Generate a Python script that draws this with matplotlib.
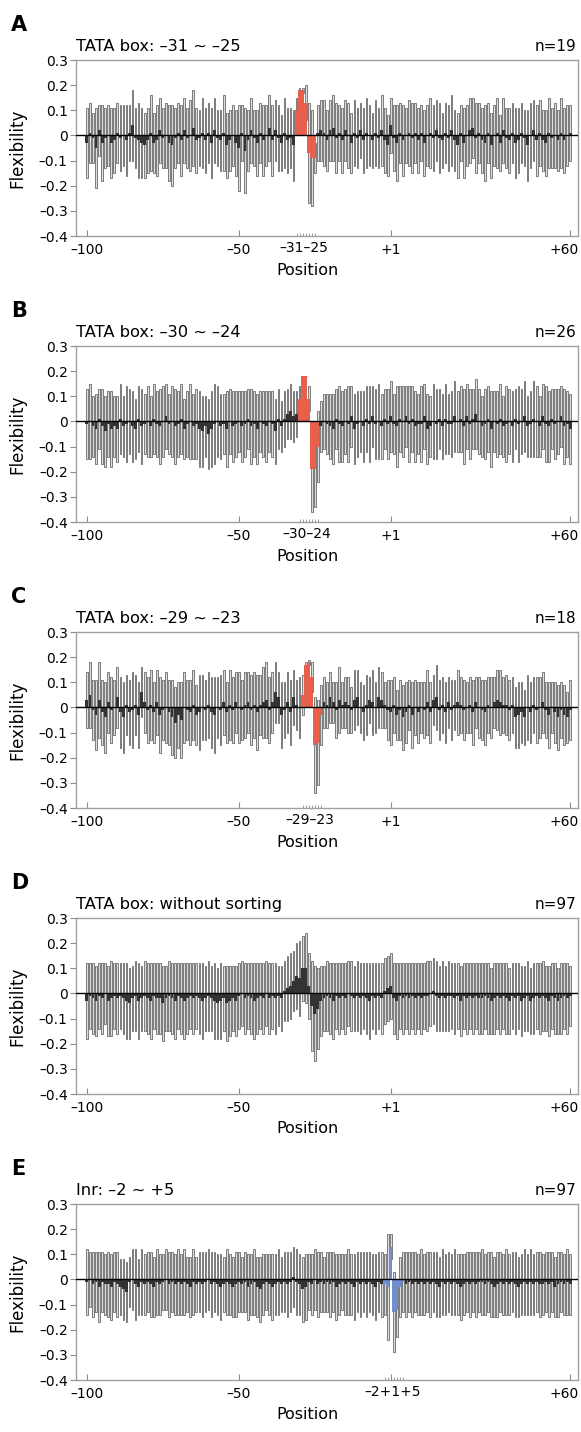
import matplotlib
matplotlib.use('Agg')
import matplotlib.pyplot as plt
import matplotlib.transforms as mtransforms
import numpy as np

plt.rcParams['font.family'] = ['DejaVu Sans']

# Positions: -100..-1, +1..+60 (no 0)
positions = list(range(-100, 0)) + list(range(1, 61))
major_tick_pos = [-100, -50, 1, 60]
major_tick_labels = ['\u2013100', '\u201350', '+1', '+60']

# ---------------- Panel A ----------------
A_mean = [
    -0.03, 0.01, -0.01, -0.05, 0.02, -0.03, -0.01, 0.00, -0.03, -0.02,
    0.01, -0.01, 0.00, -0.02, 0.01, 0.04, -0.01, -0.02, -0.03, -0.04,
    -0.02, 0.01, -0.03, -0.02, 0.02, -0.01, 0.00, -0.03, -0.04, -0.01,
    0.01, -0.02, 0.02, -0.01, 0.00, 0.03, -0.02, -0.01, 0.01, -0.02,
    0.01, -0.03, 0.02, -0.01, -0.02, 0.01, -0.04, -0.02, 0.00, -0.03,
    -0.05, 0.01, -0.06, -0.02, 0.02, -0.01, -0.03, 0.01, -0.02, 0.00,
    0.03, -0.02, 0.02, -0.01, -0.03, 0.01, -0.02, -0.01, -0.04, 0.10,
    0.18, 0.18, 0.13, -0.07, -0.09, -0.09, 0.01, 0.02, 0.01, -0.02,
    0.02, 0.03, -0.01, 0.01, -0.02, 0.02, 0.00, -0.03, 0.01, -0.01,
    0.02, -0.02, 0.01, 0.00, -0.02, 0.01, -0.01, 0.02, -0.02, -0.04,
    0.04, -0.01, -0.03, 0.01, -0.02, 0.00, 0.01, -0.01, 0.01, -0.02,
    0.01, -0.03, 0.00, 0.01, -0.01, 0.02, -0.01, -0.02, 0.01, -0.01,
    0.02, -0.02, -0.04, 0.01, -0.03, 0.00, 0.02, 0.03, -0.01, 0.01,
    -0.02, -0.03, 0.01, -0.04, 0.00, 0.01, -0.03, 0.02, -0.01, -0.02,
    0.01, -0.03, -0.02, 0.01, -0.01, -0.04, 0.00, 0.02, -0.02, 0.01,
    -0.02, -0.03, 0.01, -0.01, 0.00, -0.02, 0.01, -0.02, 0.00, 0.01,
]
A_sd = [
    0.14, 0.12, 0.10, 0.16, 0.10, 0.15, 0.12, 0.12, 0.14, 0.13,
    0.12, 0.13, 0.12, 0.14, 0.11, 0.14, 0.12, 0.15, 0.14, 0.13,
    0.13, 0.15, 0.12, 0.14, 0.13, 0.12, 0.13, 0.15, 0.16, 0.12,
    0.12, 0.14, 0.13, 0.12, 0.14, 0.15, 0.13, 0.11, 0.14, 0.13,
    0.12, 0.14, 0.13, 0.11, 0.12, 0.15, 0.13, 0.12, 0.12, 0.13,
    0.17, 0.11, 0.17, 0.12, 0.13, 0.11, 0.13, 0.12, 0.14, 0.12,
    0.13, 0.14, 0.12, 0.13, 0.11, 0.14, 0.13, 0.12, 0.14, 0.05,
    0.01, 0.01, 0.07, 0.20, 0.19, 0.06, 0.11, 0.12, 0.13, 0.12,
    0.12, 0.13, 0.14, 0.11, 0.13, 0.12, 0.13, 0.12, 0.13, 0.12,
    0.11, 0.13, 0.14, 0.12, 0.11, 0.13, 0.12, 0.14, 0.13, 0.12,
    0.11, 0.13, 0.15, 0.12, 0.14, 0.11, 0.13, 0.14, 0.12, 0.13,
    0.11, 0.13, 0.12, 0.14, 0.13, 0.12, 0.14, 0.11, 0.12, 0.13,
    0.14, 0.12, 0.13, 0.11, 0.14, 0.12, 0.13, 0.12, 0.14, 0.12,
    0.13, 0.15, 0.12, 0.13, 0.12, 0.14, 0.11, 0.13, 0.12, 0.13,
    0.12, 0.14, 0.13, 0.12, 0.11, 0.14, 0.13, 0.12, 0.14, 0.13,
    0.12, 0.13, 0.14, 0.12, 0.13, 0.12, 0.14, 0.13, 0.12, 0.11,
]

# ---------------- Panel B ----------------
B_mean = [
    -0.01, 0.00, -0.02, -0.03, 0.01, -0.02, -0.04, -0.01, -0.03, -0.02,
    -0.03, 0.01, -0.02, -0.01, 0.00, -0.02, -0.03, 0.01, -0.02, -0.01,
    0.00, -0.02, 0.01, -0.01, -0.02, 0.00, 0.02, -0.01, 0.00, -0.02,
    -0.01, 0.01, -0.03, -0.01, 0.00, -0.02, -0.01, -0.03, -0.04, -0.02,
    -0.05, -0.03, -0.01, 0.00, -0.02, -0.01, -0.03, 0.00, -0.02, -0.01,
    0.00, -0.02, -0.01, 0.01, -0.02, -0.01, -0.03, 0.00, -0.01, -0.02,
    0.00, -0.01, -0.04, 0.01, -0.02, 0.01, 0.03, 0.04, 0.02, 0.03,
    0.09, 0.18, 0.18, 0.09, -0.19, -0.19, -0.10, -0.02, 0.00, -0.01,
    -0.02, -0.03, 0.01, -0.01, -0.02, 0.00, -0.01, 0.02, -0.03, -0.01,
    0.00, -0.02, 0.01, -0.01, 0.02, -0.01, 0.00, -0.02, 0.01, -0.01,
    0.02, -0.01, -0.02, 0.01, 0.00, 0.02, -0.01, 0.01, -0.02, -0.01,
    -0.01, 0.02, -0.03, -0.02, 0.00, -0.01, 0.01, -0.02, 0.01, -0.01,
    -0.01, 0.02, 0.00, 0.01, -0.02, 0.02, -0.01, 0.01, 0.03, 0.00,
    -0.02, -0.01, 0.01, -0.03, 0.00, -0.01, 0.01, -0.02, -0.01, 0.00,
    -0.02, 0.01, -0.01, 0.00, 0.02, -0.02, -0.01, 0.01, 0.00, -0.02,
    0.02, -0.01, -0.02, 0.01, -0.01, 0.00, 0.02, -0.02, -0.01, -0.03,
]
B_sd = [
    0.14, 0.15, 0.12, 0.14, 0.12, 0.15, 0.14, 0.13, 0.15, 0.12,
    0.13, 0.14, 0.12, 0.15, 0.13, 0.14, 0.12, 0.13, 0.15, 0.12,
    0.14, 0.12, 0.14, 0.13, 0.15, 0.14, 0.13, 0.12, 0.14, 0.15,
    0.13, 0.14, 0.12, 0.13, 0.15, 0.13, 0.14, 0.15, 0.14, 0.12,
    0.14, 0.15, 0.16, 0.14, 0.13, 0.12, 0.15, 0.13, 0.14, 0.13,
    0.12, 0.14, 0.13, 0.12, 0.15, 0.13, 0.14, 0.12, 0.13, 0.14,
    0.12, 0.13, 0.13, 0.12, 0.10, 0.11, 0.10, 0.11, 0.10, 0.09,
    0.05, 0.00, 0.00, 0.05, 0.17, 0.15, 0.14, 0.10, 0.11, 0.12,
    0.13, 0.14, 0.12, 0.15, 0.14, 0.13, 0.15, 0.12, 0.14, 0.13,
    0.12, 0.14, 0.13, 0.15, 0.12, 0.14, 0.15, 0.13, 0.12, 0.14,
    0.14, 0.12, 0.16, 0.13, 0.14, 0.12, 0.15, 0.13, 0.14, 0.12,
    0.15, 0.13, 0.14, 0.12, 0.15, 0.14, 0.12, 0.13, 0.14, 0.12,
    0.13, 0.14, 0.12, 0.13, 0.15, 0.13, 0.14, 0.12, 0.14, 0.13,
    0.12, 0.14, 0.13, 0.15, 0.12, 0.13, 0.14, 0.12, 0.15, 0.13,
    0.14, 0.12, 0.15, 0.13, 0.14, 0.12, 0.13, 0.15, 0.14, 0.12,
    0.13, 0.15, 0.14, 0.12, 0.14, 0.13, 0.12, 0.15, 0.13, 0.14,
]

# ---------------- Panel C ----------------
C_mean = [
    0.03, 0.05, -0.01, -0.03, 0.03, -0.02, -0.04, 0.02, -0.01, 0.00,
    0.04, -0.02, -0.04, 0.01, -0.02, -0.01, 0.01, -0.03, 0.06, 0.02,
    -0.01, 0.01, -0.02, 0.02, -0.03, -0.01, 0.00, -0.02, -0.04, -0.06,
    -0.03, -0.05, 0.00, -0.01, -0.02, 0.01, -0.03, -0.02, 0.00, -0.01,
    0.01, -0.02, -0.03, 0.00, -0.01, 0.02, -0.02, 0.01, -0.01, 0.02,
    0.00, -0.01, 0.01, 0.02, -0.01, 0.01, -0.02, 0.01, 0.02, 0.03,
    -0.01, 0.02, 0.06, 0.04, -0.03, -0.01, 0.02, -0.02, 0.04, 0.01,
    0.00, 0.05, 0.17, 0.18, 0.12, -0.15, -0.14, -0.03, 0.02, 0.01,
    0.04, 0.02, -0.01, 0.03, 0.01, 0.02, 0.01, -0.01, 0.03, 0.04,
    0.00, -0.02, 0.01, 0.03, 0.02, 0.00, 0.04, 0.03, 0.01, -0.01,
    -0.02, 0.01, -0.03, -0.01, -0.04, -0.02, 0.01, -0.03, 0.00, -0.02,
    0.00, -0.01, 0.02, -0.02, 0.03, 0.04, -0.01, 0.01, -0.02, 0.02,
    -0.01, 0.01, 0.02, 0.01, -0.01, 0.00, 0.01, -0.02, 0.02, 0.00,
    -0.01, -0.02, 0.01, 0.00, 0.02, 0.03, 0.02, 0.01, 0.01, -0.01,
    0.01, -0.04, -0.03, -0.02, -0.04, 0.00, -0.02, 0.01, -0.01, 0.00,
    0.02, -0.01, -0.03, 0.00, -0.02, -0.04, -0.01, -0.03, -0.04, -0.01,
]
C_sd = [
    0.11, 0.13, 0.12, 0.14, 0.15, 0.13, 0.14, 0.12, 0.13, 0.11,
    0.12, 0.14, 0.14, 0.12, 0.13, 0.15, 0.12, 0.13, 0.10, 0.12,
    0.13, 0.14, 0.12, 0.13, 0.15, 0.12, 0.14, 0.13, 0.15, 0.14,
    0.13, 0.15, 0.14, 0.12, 0.13, 0.14, 0.12, 0.15, 0.13, 0.12,
    0.13, 0.14, 0.15, 0.12, 0.14, 0.13, 0.12, 0.14, 0.13, 0.12,
    0.14, 0.12, 0.13, 0.12, 0.14, 0.13, 0.15, 0.12, 0.14, 0.15,
    0.13, 0.12, 0.12, 0.10, 0.13, 0.11, 0.12, 0.13, 0.11, 0.10,
    0.12, 0.08, 0.01, 0.01, 0.06, 0.19, 0.17, 0.12, 0.10, 0.09,
    0.10, 0.08, 0.11, 0.13, 0.09, 0.10, 0.11, 0.09, 0.12, 0.11,
    0.10, 0.11, 0.12, 0.09, 0.13, 0.10, 0.12, 0.11, 0.09, 0.12,
    0.13, 0.11, 0.10, 0.12, 0.13, 0.12, 0.10, 0.13, 0.11, 0.12,
    0.10, 0.11, 0.13, 0.12, 0.10, 0.13, 0.12, 0.11, 0.12, 0.10,
    0.12, 0.10, 0.13, 0.11, 0.12, 0.10, 0.11, 0.13, 0.10, 0.12,
    0.12, 0.13, 0.11, 0.12, 0.10, 0.12, 0.13, 0.11, 0.12, 0.12,
    0.11, 0.12, 0.13, 0.12, 0.11, 0.13, 0.12, 0.11, 0.13, 0.12,
    0.12, 0.11, 0.13, 0.10, 0.12, 0.13, 0.11, 0.12, 0.10, 0.12,
]

# ---------------- Panel D ----------------
D_mean = [
    -0.03, -0.01, -0.02, -0.03, -0.01, -0.02, 0.00, -0.03, -0.02, -0.01,
    -0.02, -0.01, -0.02, -0.03, -0.04, -0.02, -0.01, -0.03, -0.02, -0.01,
    -0.02, -0.03, -0.01, -0.02, -0.02, -0.04, -0.02, -0.01, -0.02, -0.03,
    -0.01, -0.02, -0.03, -0.02, -0.01, -0.02, -0.01, -0.02, -0.03, -0.02,
    -0.01, -0.02, -0.03, -0.04, -0.03, -0.02, -0.04, -0.03, -0.02, -0.03,
    -0.01, 0.00, -0.02, -0.01, -0.02, -0.03, -0.02, -0.01, -0.02, 0.00,
    -0.02, -0.01, -0.02, -0.01, -0.02, 0.01, 0.02, 0.03, 0.05, 0.07,
    0.06, 0.10, 0.10, 0.03, -0.05, -0.08, -0.06, -0.03, -0.02, -0.01,
    -0.02, -0.03, -0.01, -0.02, -0.01, -0.02, 0.00, -0.01, -0.02, -0.01,
    -0.02, -0.01, -0.02, -0.03, -0.01, -0.02, -0.01, -0.02, 0.01, 0.02,
    0.03, -0.02, -0.03, -0.01, -0.02, -0.01, -0.02, -0.01, -0.02, -0.01,
    -0.02, -0.01, -0.01, 0.00, 0.01, -0.01, -0.02, -0.01, -0.02, -0.01,
    -0.01, -0.02, -0.01, -0.03, -0.01, -0.02, -0.01, -0.02, -0.01, -0.02,
    -0.02, -0.01, -0.02, -0.03, -0.02, -0.01, -0.02, -0.01, -0.02, -0.03,
    -0.01, -0.02, -0.01, -0.03, -0.02, -0.01, -0.03, -0.02, -0.01, -0.02,
    -0.01, -0.02, -0.03, -0.01, -0.02, -0.03, -0.02, -0.01, -0.02, -0.01,
]
D_sd = [
    0.15, 0.13, 0.14, 0.14, 0.13, 0.14, 0.12, 0.14, 0.15, 0.13,
    0.14, 0.13, 0.14, 0.15, 0.14, 0.13, 0.14, 0.15, 0.13, 0.14,
    0.14, 0.15, 0.13, 0.14, 0.14, 0.15, 0.13, 0.14, 0.14, 0.15,
    0.13, 0.14, 0.15, 0.14, 0.13, 0.14, 0.13, 0.14, 0.15, 0.13,
    0.14, 0.13, 0.15, 0.14, 0.15, 0.13, 0.15, 0.14, 0.13, 0.14,
    0.13, 0.13, 0.14, 0.13, 0.14, 0.15, 0.14, 0.13, 0.14, 0.13,
    0.14, 0.13, 0.14, 0.12, 0.13, 0.12, 0.13, 0.13, 0.12, 0.13,
    0.15, 0.13, 0.14, 0.13, 0.18, 0.19, 0.16, 0.14, 0.13, 0.14,
    0.14, 0.15, 0.13, 0.14, 0.13, 0.14, 0.13, 0.14, 0.13, 0.14,
    0.14, 0.13, 0.14, 0.15, 0.13, 0.14, 0.13, 0.14, 0.13, 0.13,
    0.13, 0.14, 0.15, 0.13, 0.14, 0.13, 0.14, 0.13, 0.14, 0.13,
    0.14, 0.13, 0.14, 0.13, 0.13, 0.14, 0.13, 0.14, 0.13, 0.14,
    0.13, 0.14, 0.13, 0.14, 0.13, 0.14, 0.13, 0.14, 0.13, 0.14,
    0.14, 0.13, 0.14, 0.13, 0.14, 0.13, 0.14, 0.13, 0.14, 0.13,
    0.13, 0.14, 0.13, 0.14, 0.13, 0.14, 0.13, 0.14, 0.13, 0.14,
    0.14, 0.13, 0.14, 0.13, 0.14, 0.13, 0.14, 0.13, 0.14, 0.12,
]

# ---------------- Panel E ----------------
E_mean = [
    -0.01, 0.00, -0.02, -0.01, -0.03, -0.01, -0.02, -0.02, -0.03, -0.01,
    -0.02, -0.03, -0.04, -0.05, -0.01, 0.00, -0.02, -0.03, -0.01, -0.02,
    -0.01, -0.02, -0.03, -0.01, -0.02, -0.01, 0.00, -0.02, -0.01, -0.02,
    -0.01, -0.02, -0.01, -0.02, -0.03, -0.01, -0.02, -0.01, -0.02, -0.01,
    0.00, -0.02, -0.01, -0.02, -0.03, -0.02, -0.01, -0.02, -0.03, -0.02,
    -0.01, -0.02, -0.01, -0.03, -0.02, -0.01, -0.03, -0.04, -0.02, -0.01,
    -0.02, -0.03, -0.02, -0.01, -0.02, -0.01, -0.02, -0.01, 0.01, -0.01,
    -0.02, -0.04, -0.03, -0.01, -0.02, 0.00, -0.02, -0.01, -0.02, -0.01,
    -0.02, -0.01, -0.03, -0.02, -0.01, -0.02, -0.01, -0.02, -0.03, -0.01,
    -0.02, -0.01, -0.02, -0.01, -0.02, -0.03, -0.01, -0.02, -0.02, -0.03,
    0.13, -0.13, -0.12, -0.03, -0.01, -0.02, -0.01, -0.02, -0.01, -0.02,
    -0.01, -0.02, -0.01, -0.02, -0.01, -0.02, -0.03, -0.01, -0.02, -0.01,
    -0.02, -0.01, -0.02, -0.03, -0.02, -0.01, -0.02, -0.01, -0.02, -0.01,
    -0.01, -0.02, -0.01, -0.02, -0.03, -0.02, -0.01, -0.02, -0.01, -0.02,
    -0.01, -0.02, -0.03, -0.02, -0.01, -0.02, -0.01, -0.02, -0.01, -0.02,
    -0.02, -0.01, -0.02, -0.01, -0.03, -0.02, -0.01, -0.02, -0.01, -0.02,
]
E_sd = [
    0.13, 0.11, 0.13, 0.12, 0.14, 0.12, 0.12, 0.13, 0.13, 0.12,
    0.13, 0.11, 0.12, 0.12, 0.10, 0.12, 0.14, 0.11, 0.13, 0.12,
    0.12, 0.13, 0.12, 0.13, 0.12, 0.11, 0.12, 0.13, 0.12, 0.12,
    0.13, 0.12, 0.13, 0.11, 0.12, 0.13, 0.11, 0.12, 0.13, 0.12,
    0.12, 0.13, 0.12, 0.12, 0.13, 0.11, 0.13, 0.12, 0.12, 0.13,
    0.12, 0.11, 0.12, 0.13, 0.12, 0.13, 0.12, 0.13, 0.12, 0.11,
    0.12, 0.13, 0.12, 0.13, 0.11, 0.12, 0.13, 0.12, 0.12, 0.13,
    0.12, 0.13, 0.13, 0.11, 0.12, 0.12, 0.13, 0.12, 0.11, 0.12,
    0.13, 0.12, 0.13, 0.12, 0.11, 0.12, 0.13, 0.12, 0.13, 0.12,
    0.13, 0.12, 0.13, 0.12, 0.12, 0.13, 0.12, 0.13, 0.12, 0.21,
    0.05, 0.16, 0.11, 0.12, 0.12, 0.13, 0.12, 0.13, 0.12, 0.12,
    0.13, 0.12, 0.12, 0.13, 0.12, 0.13, 0.12, 0.13, 0.12, 0.12,
    0.12, 0.13, 0.12, 0.13, 0.12, 0.12, 0.13, 0.12, 0.13, 0.12,
    0.13, 0.12, 0.12, 0.13, 0.12, 0.13, 0.12, 0.12, 0.13, 0.12,
    0.12, 0.13, 0.12, 0.12, 0.13, 0.12, 0.13, 0.12, 0.12, 0.13,
    0.12, 0.12, 0.13, 0.12, 0.12, 0.13, 0.12, 0.12, 0.13, 0.12,
]

letters = ['A', 'B', 'C', 'D', 'E']
titles = ['TATA box: \u201331 ~ \u201325', 'TATA box: \u201330 ~ \u201324',
          'TATA box: \u201329 ~ \u201323', 'TATA box: without sorting',
          'Inr: \u20132 ~ +5']
counts = ['n=19', 'n=26', 'n=18', 'n=97', 'n=97']
means = [A_mean, B_mean, C_mean, D_mean, E_mean]
sds = [A_sd, B_sd, C_sd, D_sd, E_sd]
# highlighted element (start, end positions) and labels
highlights = [(-31, -25), (-30, -24), (-29, -23), None, (-2, 5)]
highlight_labels = ['\u201331\u201325', '\u201330\u201324', '\u201329\u201323', None,
                    '\u20132+1+5']
highlight_colors = ['#e8604c', '#e8604c', '#e8604c', None, '#6f8fd0']

yticks = [0.3, 0.2, 0.1, 0.0, -0.1, -0.2, -0.3, -0.4]
ytick_labels = ['0.3', '0.2', '0.1', '0', '\u20130.1', '\u20130.2', '\u20130.3', '\u20130.4']


def pos_to_idx(p):
    return positions.index(p)


W, H = 581, 1432
fig = plt.figure(figsize=(W / 100, H / 100), dpi=100)

x = np.arange(len(positions))
for i in range(5):
    top = 60 + 286 * i
    bottom = top + 176
    ax = fig.add_axes([76 / W, 1 - bottom / H, 502 / W, 176 / H])
    m = np.array(means[i])
    s = np.array(sds[i])
    colors = ['#333333'] * len(positions)
    hl = highlights[i]
    if hl is not None:
        i0, i1 = pos_to_idx(hl[0]), pos_to_idx(hl[1])
        for k in range(i0, i1 + 1):
            colors[k] = highlight_colors[i]
    # error bars (mean +/- sd) drawn as slim hollow-looking bars
    ax.bar(x, 2 * s, bottom=m - s, width=0.55, color='#dcdcdc',
           edgecolor='#505050', linewidth=0.5, zorder=2)
    # mean bars
    ax.bar(x, m, width=0.95, color=colors, linewidth=0, zorder=3)
    ax.axhline(0, color='black', lw=1.0, zorder=4)

    ax.set_xlim(-3.6, 161.6)
    ax.set_ylim(-0.4, 0.3)
    ax.set_yticks(yticks)
    ax.set_yticklabels(ytick_labels)
    ax.tick_params(axis='y', direction='out', length=4, width=0.8,
                   color='#8c8c8c', labelsize=10, pad=2)

    ticks_idx = [pos_to_idx(p) for p in major_tick_pos]
    labels = list(major_tick_labels)
    if i == 4:
        labels[2] = ''
    ax.set_xticks(ticks_idx)
    ax.set_xticklabels(labels)
    ax.tick_params(axis='x', direction='in', length=4, width=0.8,
                   color='#8c8c8c', labelsize=10, pad=5)
    # keep the "+60" label inside the figure
    last = ax.get_xticklabels()[-1]
    last.set_transform(last.get_transform() +
                       mtransforms.ScaledTranslation(-5.5 / 100, 0, fig.dpi_scale_trans))
    if hl is not None:
        ax.set_xticks(list(range(i0, i1 + 1)), minor=True)
        ax.tick_params(axis='x', which='minor', direction='in', length=2.5,
                       width=0.6, color='#8c8c8c')
        ax.text((i0 + i1) / 2 - 0.5, -0.03, highlight_labels[i],
                transform=ax.get_xaxis_transform(), ha='center', va='top',
                fontsize=10)

    for sp in ax.spines.values():
        sp.set_color('#a0a0a0')
        sp.set_linewidth(1.0)

    ax.set_ylabel('Flexibility', fontsize=12)
    ax.yaxis.set_label_coords(-0.098, 0.5)
    ax.set_xlabel('Position', fontsize=11.5)
    ax.xaxis.set_label_coords(0.462, -0.155)
    ax.xaxis.label.set_va('top')

    ax.text(0.0, 1.035, titles[i], transform=ax.transAxes, ha='left',
            va='bottom', fontsize=11.7)
    ax.text(0.996, 1.035, counts[i], transform=ax.transAxes, ha='right',
            va='bottom', fontsize=11)
    fig.text(11 / W, 1 - (31 + 286 * i) / H, letters[i], fontsize=15,
             fontweight='bold', ha='left', va='baseline')

fig.savefig('out.png', dpi=100)
